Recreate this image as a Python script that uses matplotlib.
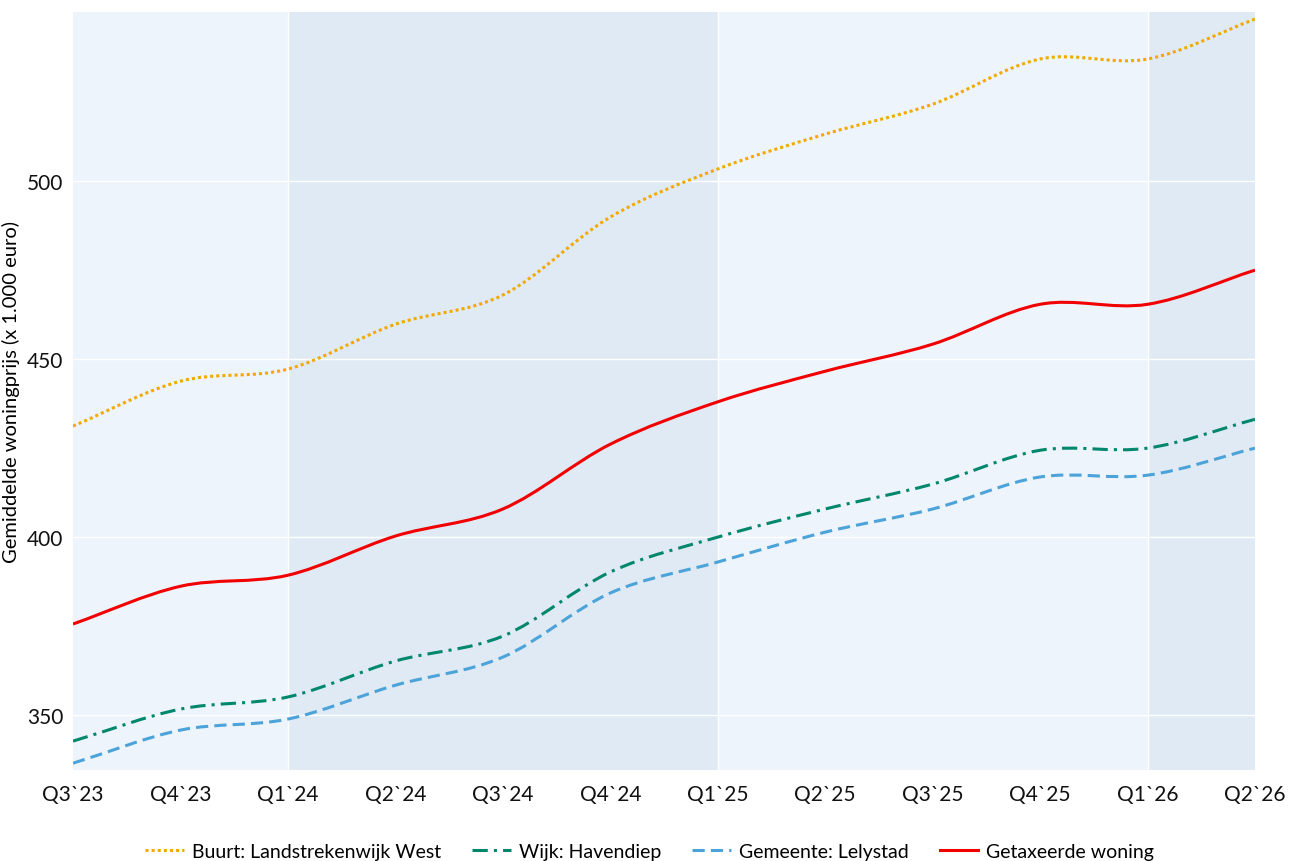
import numpy as np
import matplotlib
matplotlib.use("Agg")
import matplotlib.pyplot as plt
from matplotlib.path import Path
from matplotlib.patches import PathPatch
from matplotlib.lines import Line2D

plt.rcParams['font.family'] = ['Lato', 'DejaVu Sans']

quarters = ["Q3`23", "Q4`23", "Q1`24", "Q2`24", "Q3`24", "Q4`24",
            "Q1`25", "Q2`25", "Q3`25", "Q4`25", "Q1`26", "Q2`26"]
buurt = [431.2, 443.8, 447.2, 459.8, 468.0, 489.9, 503.4, 513.2, 521.6, 534.3, 534.3, 545.5]
wijk = [342.7, 351.7, 355.1, 365.2, 372.2, 390.2, 400.0, 407.9, 414.9, 424.4, 425.0, 433.1]
gemeente = [336.5, 345.8, 348.9, 358.4, 366.3, 384.3, 393.0, 401.4, 407.9, 416.9, 417.4, 425.0]
getaxeerd = [375.6, 386.2, 389.3, 400.3, 407.9, 426.1, 438.0, 446.6, 454.2, 465.4, 465.4, 475.0]

# year bands: (start index, end index, colour)
bands = [(0, 2, "#edf4fb"), (2, 6, "#e0eaf4"), (6, 10, "#edf4fb"), (10, 11, "#e0eaf4")]


def spline_path(x, y):
    # smooth curve through the points as cubic bezier segments (catmull-rom)
    p = np.column_stack([x, y]).astype(float)
    n = len(p)
    d = np.zeros_like(p)
    d[0] = p[1] - p[0]
    d[-1] = p[-1] - p[-2]
    d[1:-1] = (p[2:] - p[:-2]) / 2
    verts = [p[0]]
    codes = [Path.MOVETO]
    for i in range(n - 1):
        verts += [p[i] + d[i] / 3, p[i + 1] - d[i + 1] / 3, p[i + 1]]
        codes += [Path.CURVE4] * 3
    return Path(verts, codes)


fig = plt.figure(figsize=(12.99, 8.62), dpi=100)
ax = fig.add_axes([0.0562, 0.1056, 0.9099, 0.8793])

for a, b, c in bands:
    ax.axvspan(a, b, color=c, lw=0, zorder=0)
for xb in [2, 6, 10]:
    ax.axvline(xb, color="white", lw=1, zorder=0.5)

x = np.arange(len(quarters))
series = [
    ("Buurt: Landstrekenwijk West", buurt, "#f2a900", (0, (1, 1))),
    ("Wijk: Havendiep", wijk, "#00876c", (0, (5, 2, 1, 2))),
    ("Gemeente: Lelystad", gemeente, "#4ba3d9", (0, (4, 2))),
    ("Getaxeerde woning", getaxeerd, "#f20000", "-"),
]
handles = []
for label, vals, col, ls in series:
    patch = PathPatch(spline_path(x, vals), facecolor="none", edgecolor=col,
                      lw=2.2, linestyle=ls, zorder=3, capstyle="butt")
    ax.add_patch(patch)
    handles.append(Line2D([], [], color=col, lw=2.2, linestyle=ls, label=label))

ax.set_xlim(0, 11)
ax.set_ylim(334.6, 547.5)
ax.set_yticks([350, 400, 450, 500])
ax.set_xticks(x)
ax.set_xticklabels(quarters)
ax.grid(axis="y", color="white", lw=1, zorder=1)
ax.set_axisbelow(True)
for s in ax.spines.values():
    s.set_visible(False)
ax.tick_params(length=0, labelsize=15, colors="#111111", pad=10)
ax.tick_params(axis="y", pad=7)
ax.set_ylabel("Gemiddelde woningprijs (x 1.000 euro)", fontsize=14.5, labelpad=5)

fig.legend(handles=handles, loc="lower center", bbox_to_anchor=(0.5, -0.019),
           ncol=4, frameon=False, fontsize=14, handlelength=2.0,
           handletextpad=0.4, columnspacing=1.6)

fig.savefig("out.png", dpi=100, facecolor="white")
